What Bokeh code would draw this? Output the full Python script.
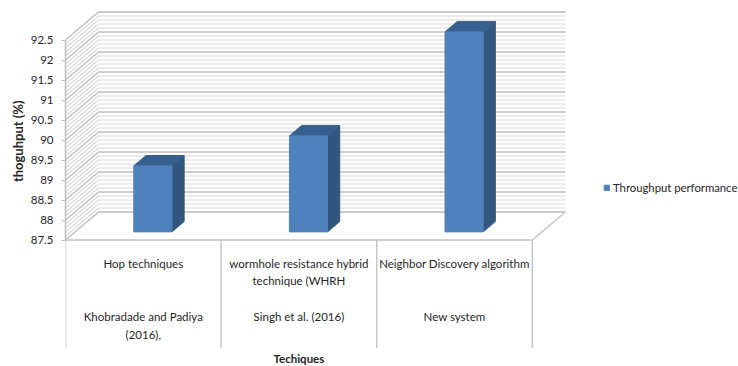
from bokeh.core.properties import value
from bokeh.embed import file_html
from bokeh.models import FixedTicker, Legend, LegendItem, Range1d, Title
from bokeh.plotting import figure
from bokeh.resources import INLINE

# Chart content
throughput = [89.15, 89.9, 92.5]
technique_lines = [
    ["Hop techniques"],
    ["wormhole resistance hybrid", "technique (WHRH"],
    ["Neighbor Discovery algorithm"],
]
source_lines = [
    ["Khobradade and Padiya", "(2016),"],
    ["Singh et al. (2016)"],
    ["New system"],
]
y_ticks = [87.5, 88, 88.5, 89, 89.5, 90, 90.5, 91, 91.5, 92, 92.5]
series_name = "Throughput performance"
x_title = "Techiques"
y_title = "thoguhput (%)"

FONT = "Lato"
TEXT_COLOUR = "#262626"
Y_MIN, Y_MAX = 87.5, 92.5
N = len(throughput)

# Pixel scale of the two data axes
PX_PER_CATEGORY = 155.6
PX_PER_UNIT = 40

# Oblique projection: a unit of depth shifts a point right and up in data units
DEPTH_X, DEPTH_Y = 33 / PX_PER_CATEGORY, 28 / PX_PER_UNIT
BAR_WIDTH = 0.245
BAR_DEPTH_FRONT, BAR_DEPTH_BACK = 0.29, 0.66


def project(x, y, depth):
    return x + depth * DEPTH_X, y + depth * DEPTH_Y


p = figure(
    width=738, height=366, output_backend="svg", toolbar_location=None,
    x_range=Range1d(0, 673 / PX_PER_CATEGORY),
    y_range=Range1d(87.5 - 126.5 / PX_PER_UNIT, 87.5 + 239.5 / PX_PER_UNIT),
    min_border_left=65, min_border_right=0, min_border_top=0, min_border_bottom=0,
    outline_line_color=None, background_fill_color="white", border_fill_color="white",
)
p.grid.visible = False
p.xaxis.visible = False

yaxis = p.yaxis[0]
yaxis.bounds = (Y_MIN, Y_MAX)
yaxis.ticker = FixedTicker(ticks=y_ticks)
yaxis.major_label_overrides = {t: f"{t:g}" for t in y_ticks}
yaxis.major_label_text_font = FONT
yaxis.major_label_text_font_size = "11.5px"
yaxis.major_label_text_color = TEXT_COLOUR
yaxis.major_label_standoff = 8
yaxis.major_tick_in = 0
yaxis.major_tick_out = 4
yaxis.major_tick_line_color = "#bdbdbd"
yaxis.minor_tick_line_color = None
yaxis.axis_line_color = "#bdbdbd"
yaxis.axis_line_width = 1.5

# The value-axis title sits beside the axis span, not the centre of the taller frame
p.add_layout(Title(
    text=y_title, align="right", offset=100, standoff=4, text_font=FONT,
    text_font_style="bold", text_font_size="13px", text_color=TEXT_COLOUR,
), "left")

# Wall grid: fine lines every 0.1, stronger lines on each labelled tick
fine = [round(Y_MIN + i * 0.1, 1) for i in range(51)]
for levels, colour, width in ((fine, "#dadada", 1.1), (y_ticks, "#c2c2c2", 1.4)):
    back_x0, _ = project(0, 0, 1)
    back_x1, _ = project(N, 0, 1)
    p.segment(x0=[back_x0] * len(levels), y0=[v + DEPTH_Y for v in levels],
              x1=[back_x1] * len(levels), y1=[v + DEPTH_Y for v in levels],
              line_color=colour, line_width=width)
    p.segment(x0=[0] * len(levels), y0=levels,
              x1=[back_x0] * len(levels), y1=[v + DEPTH_Y for v in levels],
              line_color=colour, line_width=width)

# Floor outline
floor_x, floor_y = project(N, Y_MIN, 1)
p.line([0, N, floor_x], [Y_MIN, Y_MIN, floor_y], line_color="#c4c4c4", line_width=1.4)

# Category table below the floor
TABLE_DEPTH = 108 / PX_PER_UNIT
p.segment(x0=list(range(N + 1)), y0=[Y_MIN] * (N + 1),
          x1=list(range(N + 1)), y1=[Y_MIN - TABLE_DEPTH] * (N + 1),
          line_color="#c4c4c4", line_width=1.4)

# Three visible faces of each bar
left = [i + 0.5 - BAR_WIDTH / 2 for i in range(N)]
right = [i + 0.5 + BAR_WIDTH / 2 for i in range(N)]
shift_x, shift_y = project(0, 0, BAR_DEPTH_FRONT)
back_x, back_y = project(0, 0, BAR_DEPTH_BACK)

side_xs, side_ys, top_xs, top_ys = [], [], [], []
for l, r, v in zip(left, right, throughput):
    side_xs.append([r + shift_x, r + back_x, r + back_x, r + shift_x])
    side_ys.append([Y_MIN + shift_y, Y_MIN + back_y, v + back_y, v + shift_y])
    top_xs.append([l + shift_x, r + shift_x, r + back_x, l + back_x])
    top_ys.append([v + shift_y, v + shift_y, v + back_y, v + back_y])

p.patches(side_xs, side_ys, fill_color="#33567f", line_color="#33567f")
p.patches(top_xs, top_ys, fill_color="#38608f", line_color="#38608f")
front = p.vbar(x=[i + 0.5 + shift_x for i in range(N)], width=BAR_WIDTH,
               bottom=Y_MIN + shift_y, top=[v + shift_y for v in throughput],
               fill_color="#4f81bd", line_color="#4f81bd")


def draw_rows(groups, first_offset):
    """Write each category's lines below the floor, 17.5px apart."""
    for i, lines in enumerate(groups):
        for j, line in enumerate(lines):
            p.text(x=[i + 0.5], y=[Y_MIN], text=[line], text_align="center",
                   text_baseline="middle", y_offset=first_offset + j * 17.5,
                   text_font=value(FONT), text_font_size="11.5px", text_color=TEXT_COLOUR)


draw_rows(technique_lines, 23)
draw_rows(source_lines, 76.5)

p.text(x=[N / 2], y=[Y_MIN], text=[x_title], text_align="center", text_baseline="middle",
       y_offset=118, text_font=value(FONT), text_font_style="bold",
       text_font_size="11.5px", text_color=TEXT_COLOUR)

legend = Legend(
    items=[LegendItem(label=series_name, renderers=[front])],
    location=(538, 172), orientation="vertical",
    border_line_color=None, background_fill_alpha=0,
    padding=0, margin=0, glyph_width=7, glyph_height=7, label_standoff=3,
    label_text_font=FONT, label_text_font_size="11.3px", label_text_color=TEXT_COLOUR,
)
p.add_layout(legend, "center")

open("out.html", "w").write(file_html(p, INLINE))
